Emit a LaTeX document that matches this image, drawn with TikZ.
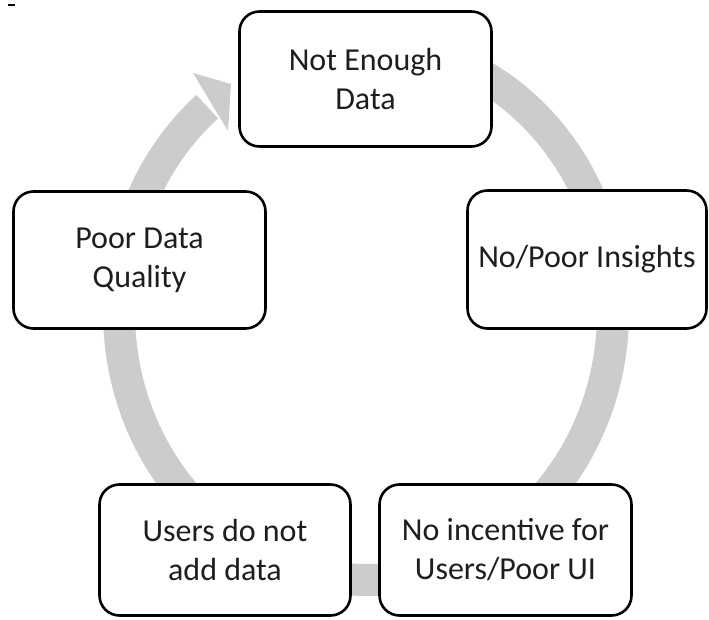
\documentclass[tikz,border=0pt]{standalone}
\usepackage{fontspec}
\setmainfont{Carlito}
\definecolor{ringgray}{RGB}{204,204,204}
\definecolor{stagetext}{RGB}{30,30,30}
\begin{document}
\begin{tikzpicture}[x=1pt,y=1pt,
  stage/.style={draw=black, line width=2.6pt, rounded corners=20pt, fill=white,
    align=center, inner sep=0pt, text=stagetext,
    font=\fontsize{32}{39}\selectfont},
  ringline/.style={draw=ringgray, line width=32pt},
  ringhead/.style={fill=ringgray}]
\useasboundingbox (0,0) rectangle (709,619);

% stray dash in the upper left corner
\draw[line width=1.4pt] (8,614) -- (15,614);

% grey cycle ring, clockwise, ending in a head at the upper left
\coordinate (ringstart) at (366,575);
\draw[ringline] (ringstart) arc[start angle=90, end angle=-230, x radius=247, y radius=268];
\fill[ringhead] (193,546) -- (231,535) -- (228,488) -- cycle;

% the five stages
\node[stage, minimum width=252pt, minimum height=135pt] (enough)   at (365.5,540) {Not Enough\\Data};
\node[stage, minimum width=239pt, minimum height=138pt] (insights) at (587,359.5)  {No/Poor Insights};
\node[stage, minimum width=252pt, minimum height=131pt] (incent)   at (505.5,69)   {No incentive for\\Users/Poor UI};
\node[stage, minimum width=251pt, minimum height=131pt] (users)    at (225,69)     {Users do not\\add data};
\node[stage, minimum width=252pt, minimum height=137pt] (quality)  at (139.5,359)  {Poor Data\\Quality};
\end{tikzpicture}
\end{document}
